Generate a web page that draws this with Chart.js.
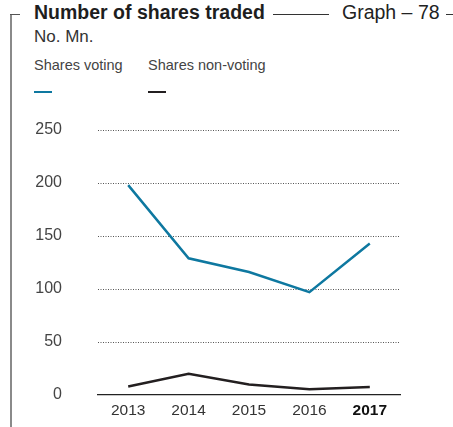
<!DOCTYPE html>
<html>
<head>
<meta charset="utf-8">
<script src="https://cdn.jsdelivr.net/npm/chart.js@4.4.1/dist/chart.umd.min.js"></script>
<style>
  html, body { margin: 0; padding: 0; background: #fff; }
  body { width: 453px; height: 427px; position: relative; overflow: hidden;
         font-family: "Liberation Sans", Arial, sans-serif; color: #222; }
  .abs { position: absolute; white-space: nowrap; }
  #frame { left: 10px; top: 14px; width: 2px; height: 413px; background: #8a8a8a; }
  #frameTick { left: 10px; top: 13.5px; width: 10px; height: 1.5px; background: #555; }
  #title { left: 34px; top: 1px; font-size: 19.5px; font-weight: bold; color: #1e1e1e; }
  #titleRule { left: 273px; top: 14px; width: 56px; height: 1px; background: #333; }
  #graphNo { left: 342px; top: 1px; font-size: 19.5px; color: #222; }
  #endTick { left: 446px; top: 14px; width: 7px; height: 1px; background: #333; }
  #unit { left: 34px; top: 27px; font-size: 17px; color: #333; }
  .legText { font-size: 14.5px; color: #444; top: 57px; }
  .legLine { top: 90.5px; width: 18px; height: 2.5px; }
  #chartWrap { left: 0; top: 0; width: 453px; height: 427px; }
</style>
</head>
<body>
<div class="abs" id="frame"></div>
<div class="abs" id="frameTick"></div>
<div class="abs" id="title">Number of shares traded</div>
<div class="abs" id="titleRule"></div>
<div class="abs" id="graphNo">Graph – 78</div>
<div class="abs" id="endTick"></div>
<div class="abs" id="unit">No. Mn.</div>
<div id="legend"></div>
<div class="abs" id="chartWrap"><canvas id="chart" width="453" height="427"></canvas></div>

<script>
// data
const years = ["2013", "2014", "2015", "2016", "2017"];
const seriesNames = ["Shares voting", "Shares non-voting"];
const sharesVoting = [198, 129, 116, 97, 143];
const sharesNonVoting = [8, 20, 10, 5.5, 7.5];
const yTicks = [0, 50, 100, 150, 200, 250];

const colors = ["#0e78a0", "#231f20"];
const legendX = [34, 148];

// legend: label on top, line sample underneath
const legend = document.getElementById("legend");
seriesNames.forEach((name, i) => {
  const t = document.createElement("div");
  t.className = "abs legText";
  t.style.left = legendX[i] + "px";
  t.textContent = name;
  legend.appendChild(t);
  const l = document.createElement("div");
  l.className = "abs legLine";
  l.style.left = legendX[i] + "px";
  l.style.background = colors[i];
  legend.appendChild(l);
});

const ctx = document.getElementById("chart").getContext("2d");
new Chart(ctx, {
  type: "line",
  data: {
    labels: years,
    datasets: [
      {
        label: seriesNames[0],
        data: sharesVoting,
        borderColor: colors[0],
        borderWidth: 2.5,
        pointRadius: 0,
        tension: 0,
        fill: false
      },
      {
        label: seriesNames[1],
        data: sharesNonVoting,
        borderColor: colors[1],
        borderWidth: 2.5,
        pointRadius: 0,
        tension: 0,
        fill: false
      }
    ]
  },
  options: {
    responsive: false,
    animation: false,
    events: [],
    layout: { padding: { top: 130, right: 53, bottom: 0, left: 0 } },
    plugins: {
      legend: { display: false },
      tooltip: { enabled: false }
    },
    scales: {
      x: {
        offset: true,
        grid: { display: false, drawTicks: false },
        border: { display: true, color: "#222", width: 1.2 },
        ticks: {
          padding: 6,
          font: (c) => ({
            family: "Liberation Sans, Arial, sans-serif",
            size: 15.5,
            weight: c.index === years.length - 1 ? "bold" : "normal"
          }),
          color: (c) => c.index === years.length - 1 ? "#111" : "#333"
        },
        afterFit: (axis) => { axis.height = 32; }
      },
      y: {
        min: 0,
        max: 250,
        afterBuildTicks: (axis) => { axis.ticks = yTicks.map(v => ({ value: v })); },
        grid: {
          drawTicks: false,
          color: (c) => c.tick.value === 0 ? "rgba(0,0,0,0)" : "#555",
          lineWidth: 1
        },
        border: { display: false, dash: [1, 1.5] },
        ticks: {
          padding: 36,
          color: "#444",
          font: { family: "Liberation Sans, Arial, sans-serif", size: 16 }
        },
        // wide label gap shouldn't eat into the plot height
        afterFit: (axis) => {
          axis.width = 98;
          axis.paddingTop = 0;
          axis.paddingBottom = 0;
        }
      }
    }
  }
});
</script>
</body>
</html>
